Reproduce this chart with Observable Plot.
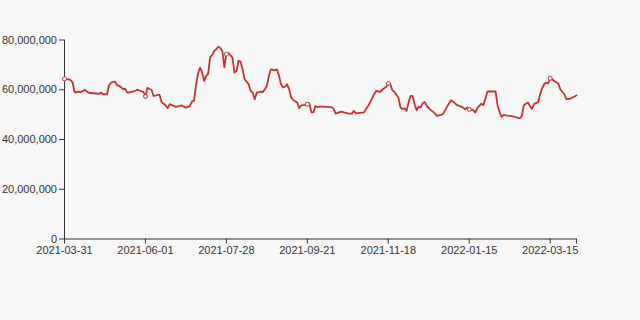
<!DOCTYPE html>
<html>
<head>
<meta charset="utf-8">
<script src="https://cdn.jsdelivr.net/npm/d3@7"></script>
<script src="https://cdn.jsdelivr.net/npm/@observablehq/plot@0.6"></script>
<style>
  html, body { margin: 0; padding: 0; background: #f7f7f7; }
  #chart svg { display: block; }
</style>
</head>
<body>
<div id="chart"></div>
<script>
// Series values (millions), one per trading day
const valuesMillions = [
  64.4, 64.3, 64.2, 63.9, 62.9, 59.1, 59.0, 59.2, 59.1, 59.4,
  60.0, 59.4, 58.8, 58.7, 58.6, 58.5, 58.5, 58.3, 58.9, 58.1,
  58.2, 58.1, 61.8, 62.8, 63.2, 63.3, 61.8, 61.6, 60.9, 60.3,
  60.4, 58.9, 58.9, 59.1, 59.3, 59.6, 60.0, 59.7, 59.4, 59.1,
  57.3, 60.8, 60.3, 60.0, 57.5, 57.6, 57.9, 57.9, 54.9, 54.4,
  53.8, 52.6, 54.2, 53.8, 53.5, 53.1, 53.3, 53.5, 53.7, 53.2,
  52.8, 53.1, 53.5, 55.3, 55.5, 62.0, 66.5, 68.9, 67.0, 63.6,
  65.6, 66.5, 73.2, 73.9, 75.6, 76.3, 77.3, 76.8, 75.6, 69.0,
  74.3, 74.7, 73.8, 73.0, 66.9, 67.5, 71.6, 71.3, 68.2, 64.2,
  63.2, 62.2, 59.5, 58.9, 56.2, 58.9, 59.0, 59.2, 59.1, 60.2,
  61.6, 65.6, 68.2, 68.0, 67.8, 68.2, 65.6, 62.2, 60.9, 61.3,
  62.2, 60.3, 56.9, 55.9, 55.4, 54.9, 52.6, 53.7, 53.8, 53.9,
  54.2, 54.5, 50.9, 50.9, 53.5, 53.0, 53.2, 53.2, 53.2, 53.1,
  53.1, 53.0, 53.0, 52.3, 50.4, 50.7, 51.0, 51.2, 50.9, 50.7,
  50.5, 50.4, 50.4, 51.5, 50.5, 50.6, 50.7, 50.8, 50.9, 52.3,
  53.5, 54.9, 56.5, 58.2, 59.5, 59.3, 59.2, 60.0, 60.6, 61.2,
  62.5, 62.2, 59.8, 59.2, 58.0, 56.9, 52.9, 52.3, 52.5, 51.5,
  54.9, 57.5, 57.5, 54.2, 51.8, 53.2, 52.9, 54.6, 55.1, 53.5,
  52.6, 51.8, 51.2, 50.5, 49.5, 49.7, 49.9, 50.2, 51.6, 53.1,
  54.5, 55.8, 55.2, 54.5, 53.8, 53.5, 53.2, 52.8, 52.1, 52.9,
  52.1, 52.0, 51.8, 50.8, 52.7, 53.5, 54.4, 53.8, 56.5, 59.3,
  59.3, 59.3, 59.3, 59.3, 53.8, 51.0, 49.1, 49.9, 49.7, 49.6,
  49.5, 49.4, 49.2, 49.0, 48.7, 48.5, 49.5, 53.8, 54.4, 54.9,
  53.5, 52.3, 54.2, 54.6, 54.9, 58.2, 60.5, 62.2, 62.9, 62.5,
  64.6, 64.2, 63.5, 63.0, 62.5, 60.2, 59.2, 58.2, 56.2, 56.3,
  56.4, 56.9, 57.3, 57.8
];

// Category axis labels and their positions (category index)
const tickLabels = ["2021-03-31", "2021-06-01", "2021-07-28", "2021-09-21", "2021-11-18", "2022-01-15", "2022-03-15"];
const tickIndex = [0, 40, 80, 120, 160, 200, 240];
const yTicks = [0, 20000000, 40000000, 60000000, 80000000];

const data = valuesMillions.map((v, i) => ({i, value: v * 1e6}));
const lastIndex = valuesMillions.length - 1;
const labelAt = new Map(tickIndex.map((t, k) => [t, tickLabels[k]]));
const symbolData = data.filter(d => labelAt.has(d.i));

const lineColor = "#c23531";
const axisColor = "#333333";
const fmt = d3.format(",");

const chart = Plot.plot({
  width: 640,
  height: 320,
  marginLeft: 64,
  marginRight: 64,
  marginTop: 39.5,
  marginBottom: 81.5,
  style: {
    background: "#f7f7f7",
    fontFamily: "'Liberation Sans', Arial, sans-serif",
    fontSize: "11px",
    color: axisColor,
    overflow: "visible"
  },
  x: {type: "linear", domain: [0, lastIndex]},
  y: {domain: [0, 80000000]},
  marks: [
    Plot.axisY({
      ticks: yTicks,
      tickSize: 5,
      tickPadding: 2.5,
      tickFormat: d => fmt(d),
      label: null,
      stroke: axisColor,
      fill: axisColor
    }),
    Plot.axisX({
      ticks: [...tickIndex, lastIndex],
      tickSize: 5,
      tickPadding: 2.5,
      tickFormat: d => labelAt.get(d) ?? "",
      label: null,
      stroke: axisColor,
      fill: axisColor
    }),
    Plot.ruleX([0], {stroke: axisColor}),
    Plot.ruleY([0], {stroke: axisColor}),
    Plot.line(data, {x: "i", y: "value", stroke: lineColor, strokeWidth: 1.8, strokeLinejoin: "round"}),
    Plot.dot(symbolData, {x: "i", y: "value", r: 2, fill: "#ffffff", stroke: lineColor, strokeWidth: 1})
  ]
});

document.getElementById("chart").appendChild(chart);
</script>
</body>
</html>
